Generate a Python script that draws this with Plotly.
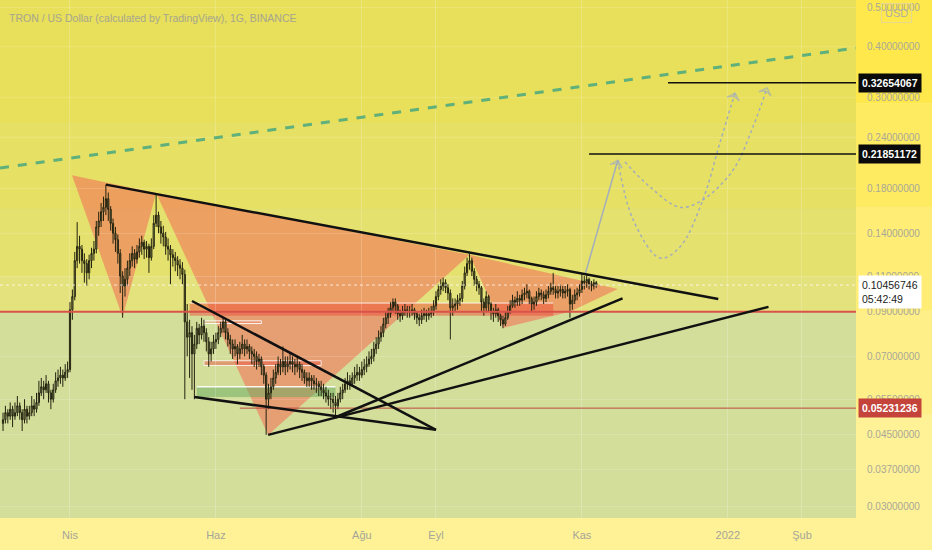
import math

import pandas as pd
import plotly.graph_objects as go

# daily candles, TRX/USD, 2021-03-04 .. 2021-11-07
start_day = "2021-03-04"
first_open = 0.048
close = [
    0.049, 0.051, 0.050, 0.052, 0.050, 0.051, 0.053, 0.051, 0.049, 0.052,
    0.050, 0.051, 0.053, 0.052, 0.054, 0.057, 0.059, 0.058, 0.060, 0.057,
    0.055, 0.058, 0.061, 0.062, 0.063, 0.062, 0.064, 0.065, 0.091, 0.098,
    0.120, 0.130, 0.128, 0.120, 0.118, 0.112, 0.120, 0.125, 0.128, 0.145,
    0.150, 0.158, 0.162, 0.170, 0.160, 0.148, 0.140, 0.135, 0.125, 0.110,
    0.104, 0.108, 0.115, 0.120, 0.125, 0.121, 0.126, 0.130, 0.133, 0.128,
    0.130, 0.122, 0.130, 0.148, 0.155, 0.145, 0.140, 0.137, 0.130, 0.128,
    0.124, 0.122, 0.120, 0.117, 0.115, 0.111, 0.085, 0.078, 0.080, 0.071,
    0.075, 0.082, 0.079, 0.083, 0.080, 0.076, 0.071, 0.073, 0.076, 0.077,
    0.080, 0.082, 0.085, 0.080, 0.077, 0.075, 0.073, 0.074, 0.071, 0.073,
    0.075, 0.073, 0.074, 0.072, 0.071, 0.070, 0.068, 0.069, 0.066, 0.063,
    0.055, 0.057, 0.059, 0.062, 0.064, 0.067, 0.066, 0.068, 0.066, 0.067,
    0.068, 0.067, 0.066, 0.067, 0.065, 0.064, 0.062, 0.061, 0.062, 0.061,
    0.060, 0.060, 0.059, 0.058, 0.057, 0.056, 0.055, 0.055, 0.054, 0.053,
    0.055, 0.057, 0.058, 0.060, 0.061, 0.060, 0.062, 0.063, 0.064, 0.063,
    0.065, 0.066, 0.067, 0.069, 0.070, 0.073, 0.075, 0.078, 0.080, 0.084,
    0.087, 0.089, 0.092, 0.095, 0.093, 0.089, 0.088, 0.090, 0.091, 0.090,
    0.090, 0.091, 0.089, 0.087, 0.086, 0.088, 0.089, 0.088, 0.089, 0.090,
    0.093, 0.098, 0.102, 0.104, 0.106, 0.103, 0.100, 0.092, 0.093, 0.094,
    0.096, 0.097, 0.104, 0.112, 0.118, 0.120, 0.113, 0.108, 0.105, 0.103,
    0.095, 0.092, 0.098, 0.094, 0.090, 0.089, 0.091, 0.088, 0.086, 0.084,
    0.087, 0.090, 0.093, 0.096, 0.095, 0.097, 0.096, 0.099, 0.100, 0.101,
    0.097, 0.094, 0.095, 0.098, 0.100, 0.099, 0.097, 0.099, 0.101, 0.103,
    0.102, 0.100, 0.101, 0.102, 0.100, 0.101, 0.102, 0.094, 0.096, 0.099,
    0.100, 0.102, 0.107, 0.106, 0.108, 0.105, 0.104, 0.106, 0.10456746,
]
high = [
    0.051, 0.053, 0.052, 0.054, 0.053, 0.054, 0.056, 0.054, 0.052, 0.055,
    0.053, 0.053, 0.056, 0.055, 0.057, 0.061, 0.062, 0.061, 0.063, 0.061,
    0.058, 0.060, 0.064, 0.065, 0.066, 0.065, 0.067, 0.068, 0.095, 0.102,
    0.126, 0.149, 0.138, 0.131, 0.125, 0.121, 0.124, 0.129, 0.134, 0.150,
    0.158, 0.166, 0.172, 0.184, 0.176, 0.163, 0.152, 0.145, 0.139, 0.128,
    0.113, 0.115, 0.120, 0.125, 0.130, 0.128, 0.131, 0.136, 0.138, 0.135,
    0.134, 0.132, 0.136, 0.155, 0.174, 0.158, 0.150, 0.146, 0.141, 0.136,
    0.131, 0.128, 0.126, 0.123, 0.121, 0.119, 0.114, 0.094, 0.086, 0.083,
    0.079, 0.085, 0.084, 0.087, 0.086, 0.082, 0.078, 0.076, 0.079, 0.080,
    0.083, 0.085, 0.087, 0.086, 0.082, 0.079, 0.077, 0.077, 0.075, 0.076,
    0.079, 0.077, 0.077, 0.075, 0.074, 0.073, 0.072, 0.071, 0.070, 0.067,
    0.064, 0.060, 0.062, 0.065, 0.067, 0.070, 0.069, 0.074, 0.070, 0.070,
    0.071, 0.070, 0.069, 0.070, 0.068, 0.067, 0.065, 0.064, 0.064, 0.063,
    0.063, 0.062, 0.061, 0.061, 0.060, 0.059, 0.058, 0.057, 0.057, 0.056,
    0.057, 0.059, 0.060, 0.062, 0.064, 0.063, 0.064, 0.066, 0.067, 0.066,
    0.068, 0.069, 0.070, 0.072, 0.073, 0.076, 0.078, 0.081, 0.083, 0.087,
    0.090, 0.092, 0.095, 0.097, 0.097, 0.094, 0.091, 0.093, 0.094, 0.093,
    0.093, 0.094, 0.092, 0.090, 0.089, 0.091, 0.092, 0.091, 0.092, 0.093,
    0.096, 0.101, 0.105, 0.108, 0.109, 0.108, 0.105, 0.102, 0.097, 0.097,
    0.099, 0.100, 0.107, 0.116, 0.122, 0.125, 0.122, 0.115, 0.110, 0.107,
    0.104, 0.097, 0.101, 0.099, 0.095, 0.092, 0.094, 0.092, 0.089, 0.088,
    0.090, 0.093, 0.096, 0.099, 0.098, 0.101, 0.099, 0.102, 0.103, 0.105,
    0.102, 0.098, 0.098, 0.101, 0.103, 0.102, 0.101, 0.102, 0.104, 0.106,
    0.112, 0.104, 0.104, 0.105, 0.104, 0.104, 0.105, 0.103, 0.099, 0.102,
    0.103, 0.105, 0.112, 0.110, 0.111, 0.109, 0.107, 0.108, 0.107,
]
low = [
    0.046, 0.048, 0.048, 0.049, 0.047, 0.049, 0.050, 0.049, 0.046, 0.048,
    0.048, 0.049, 0.050, 0.050, 0.051, 0.053, 0.056, 0.055, 0.057, 0.054,
    0.052, 0.054, 0.057, 0.059, 0.060, 0.059, 0.061, 0.062, 0.064, 0.086,
    0.096, 0.115, 0.118, 0.112, 0.106, 0.104, 0.108, 0.115, 0.120, 0.125,
    0.138, 0.145, 0.150, 0.155, 0.150, 0.142, 0.132, 0.126, 0.118, 0.100,
    0.087, 0.098, 0.104, 0.110, 0.116, 0.115, 0.118, 0.122, 0.124, 0.121,
    0.122, 0.112, 0.120, 0.128, 0.145, 0.140, 0.132, 0.130, 0.124, 0.120,
    0.105, 0.116, 0.113, 0.110, 0.108, 0.105, 0.055, 0.070, 0.062, 0.058,
    0.055, 0.073, 0.075, 0.077, 0.076, 0.072, 0.066, 0.068, 0.071, 0.073,
    0.075, 0.078, 0.080, 0.077, 0.074, 0.071, 0.069, 0.070, 0.067, 0.069,
    0.071, 0.070, 0.071, 0.069, 0.067, 0.066, 0.065, 0.066, 0.063, 0.060,
    0.045, 0.052, 0.055, 0.058, 0.060, 0.063, 0.063, 0.064, 0.063, 0.064,
    0.065, 0.064, 0.063, 0.064, 0.062, 0.061, 0.060, 0.059, 0.059, 0.058,
    0.058, 0.057, 0.056, 0.056, 0.055, 0.054, 0.053, 0.052, 0.051, 0.0495,
    0.052, 0.054, 0.055, 0.057, 0.058, 0.058, 0.059, 0.060, 0.061, 0.061,
    0.062, 0.063, 0.064, 0.066, 0.067, 0.068, 0.071, 0.073, 0.076, 0.078,
    0.082, 0.084, 0.087, 0.090, 0.089, 0.086, 0.085, 0.086, 0.088, 0.087,
    0.087, 0.088, 0.086, 0.084, 0.083, 0.084, 0.086, 0.085, 0.086, 0.087,
    0.088, 0.091, 0.096, 0.099, 0.101, 0.100, 0.096, 0.077, 0.088, 0.090,
    0.091, 0.093, 0.095, 0.102, 0.110, 0.114, 0.110, 0.104, 0.101, 0.099,
    0.090, 0.088, 0.090, 0.090, 0.086, 0.085, 0.087, 0.085, 0.083, 0.082,
    0.083, 0.086, 0.089, 0.092, 0.092, 0.093, 0.093, 0.094, 0.096, 0.097,
    0.094, 0.090, 0.091, 0.093, 0.096, 0.096, 0.094, 0.095, 0.097, 0.099,
    0.099, 0.097, 0.097, 0.098, 0.097, 0.097, 0.098, 0.087, 0.091, 0.094,
    0.096, 0.098, 0.100, 0.102, 0.103, 0.102, 0.101, 0.102, 0.103,
]

# axis ticks
x_tick_dates = ["2021-04-01", "2021-06-01", "2021-08-01", "2021-09-01",
                "2021-11-01", "2022-01-01", "2022-02-01"]
x_tick_text = ["Nis", "Haz", "Ağu", "Eyl", "Kas", "2022", "Şub"]
y_ticks = [0.5, 0.4, 0.3, 0.24, 0.18, 0.14, 0.11, 0.09, 0.07, 0.055, 0.045, 0.037, 0.03]
x_view = ["2021-03-02 17:45", "2022-02-23 14:00"]
y_view = [0.02819, 0.5201]

# drawings (date, price)
harmonic_a = [("2021-04-01 20:00", 0.194), ("2021-04-23", 0.0874), ("2021-05-07", 0.1755)]
harmonic_b = [("2021-05-07", 0.1755), ("2021-06-22 20:00", 0.045), ("2021-09-15", 0.124)]
harmonic_c = [("2021-09-15", 0.124), ("2021-09-29", 0.0821), ("2021-10-27", 0.090), ("2021-11-16", 0.1023)]
trend_lines = [
    (("2021-04-16", 0.184), ("2021-12-28", 0.0967)),
    (("2021-05-22", 0.0956), ("2021-09-01", 0.0463)),
    (("2021-05-23", 0.0557), ("2021-09-01", 0.0463)),
    (("2021-06-22 20:00", 0.045), ("2022-01-18", 0.0925)),
    (("2021-07-21", 0.0497), ("2021-11-18", 0.097)),
]
channel_line = (("2021-03-02 17:45", 0.202), ("2022-02-23 14:00", 0.397))
support_level = 0.09
low_level = 0.05231236
target_1 = 0.21851172
target_2 = 0.32654067
last_price = 0.10456746
countdown = "05:42:49"

path_up = [("2021-11-02 08:00", 0.111), ("2021-11-16", 0.211)]
path_deep = [("2021-11-16", 0.211), ("2021-11-22 10:00", 0.151), ("2021-12-03 16:00", 0.1217),
             ("2021-12-12", 0.1296), ("2021-12-21 14:00", 0.169), ("2021-12-28 16:00", 0.2326),
             ("2022-01-04", 0.308)]
path_shallow = [("2021-11-19", 0.209), ("2021-11-29 12:00", 0.1816), ("2021-12-12", 0.162),
                ("2021-12-21 14:00", 0.169), ("2022-01-03 05:00", 0.1998), ("2022-01-11 12:00", 0.2545),
                ("2022-01-17 10:00", 0.317)]

dates = pd.date_range(start_day, periods=len(close), freq="D")
opens = [first_open] + close[:-1]

fig = go.Figure()

fig.add_trace(
    go.Candlestick(
        x=dates,
        open=opens,
        high=high,
        low=low,
        close=close,
        increasing=dict(line=dict(color="#23230f", width=1), fillcolor="#a2a26c"),
        decreasing=dict(line=dict(color="#23230f", width=1), fillcolor="#77774c"),
        whiskerwidth=0,
        showlegend=False,
        hoverinfo="skip",
    )
)

arrow_color = "#a3aebb"
fig.add_trace(go.Scatter(
    x=[p[0] for p in path_up], y=[p[1] for p in path_up], mode="lines+markers",
    line=dict(color=arrow_color, width=1.5),
    marker=dict(symbol="arrow-wide-open", size=[0, 9], angleref="previous",
                color=arrow_color, line=dict(color=arrow_color, width=1.5)),
    showlegend=False, hoverinfo="skip",
))
for path in (path_deep, path_shallow):
    fig.add_trace(go.Scatter(
        x=[p[0] for p in path], y=[p[1] for p in path], mode="lines",
        line=dict(color=arrow_color, width=1.5, dash="dot", shape="spline"),
        showlegend=False, hoverinfo="skip",
    ))
    fig.add_trace(go.Scatter(
        x=[p[0] for p in path[-2:]], y=[p[1] for p in path[-2:]], mode="markers",
        marker=dict(symbol="arrow-wide-open", size=[0, 9], angleref="previous",
                    color=arrow_color, line=dict(color=arrow_color, width=1.5)),
        showlegend=False, hoverinfo="skip",
    ))


def poly_path(points):
    parts = []
    for k, (d, v) in enumerate(points):
        parts.append(("M" if k == 0 else "L") + f"{d.replace(' ', '_')},{v}")
    return " ".join(parts) + " Z"


shapes = []

# background bands: yellow above the 0.09 level, pale green below
yellow_bands = [(0.09, 0.11, "#e3e27c"), (0.11, 0.16, "#e5e16e"),
                (0.16, 0.26, "#e6e064"), (0.26, 0.6, "#e8df5a")]
for y0, y1, col in yellow_bands:
    shapes.append(dict(type="rect", xref="paper", x0=0, x1=1, yref="y", y0=y0, y1=y1,
                       fillcolor=col, line_width=0, layer="below"))
# right price scale background
scale_bands = [(0.8, 1.0, "#ffe84c"), (0.6, 0.8, "#ffeb62"), (0.4, 0.6, "#ffed76"),
               (0.2, 0.4, "#ffef88"), (0.0, 0.2, "#fff196")]
for y0, y1, col in scale_bands:
    shapes.append(dict(type="rect", xref="paper", x0=1, x1=1.1, yref="paper", y0=y0, y1=y1,
                       fillcolor=col, line_width=0, layer="below"))

orange = "rgba(240,120,90,0.62)"
for tri in (harmonic_a, harmonic_b, harmonic_c):
    shapes.append(dict(type="path", path=poly_path(tri), xref="x", yref="y",
                       fillcolor=orange, line_width=0, layer="below"))

# zones
shapes.append(dict(type="rect", x0="2021-05-21", x1="2021-10-20", y0=0.088, y1=0.0945,
                   fillcolor="rgba(236,80,60,0.5)", line_width=0, layer="below"))
shapes.append(dict(type="line", x0="2021-05-21", x1="2021-10-20", y0=0.0945, y1=0.0945,
                   line=dict(color="rgba(255,255,255,0.85)", width=1), layer="below"))
shapes.append(dict(type="rect", x0="2021-05-27", x1="2021-06-20", y0=0.0842, y1=0.0855,
                   fillcolor="rgba(236,120,90,0.3)", line=dict(color="rgba(255,255,255,0.9)", width=1),
                   layer="below"))
shapes.append(dict(type="rect", x0="2021-05-27", x1="2021-07-15", y0=0.0665, y1=0.0683,
                   fillcolor="rgba(230,90,70,0.5)", line=dict(color="rgba(255,255,255,0.8)", width=1),
                   layer="below"))
shapes.append(dict(type="rect", x0="2021-05-24", x1="2021-07-21", y0=0.0557, y1=0.059,
                   fillcolor="rgba(100,170,95,0.5)", line_width=0, layer="below"))
shapes.append(dict(type="line", x0="2021-05-24", x1="2021-07-21", y0=0.059, y1=0.059,
                   line=dict(color="rgba(255,255,255,0.9)", width=1.5), layer="below"))

# horizontal levels
shapes.append(dict(type="line", xref="paper", x0=0, x1=1, y0=support_level, y1=support_level,
                   line=dict(color="#d9534a", width=2)))
shapes.append(dict(type="line", xref="paper", x0=0, x1=1, y0=last_price, y1=last_price,
                   line=dict(color="rgba(255,255,255,0.75)", width=1, dash="dot")))
shapes.append(dict(type="line", x0="2021-06-11", x1=x_view[1], y0=low_level, y1=low_level,
                   line=dict(color="#b84a3e", width=1)))
shapes.append(dict(type="line", x0="2021-11-04", x1=x_view[1], y0=target_1, y1=target_1,
                   line=dict(color="#111111", width=1.5)))
shapes.append(dict(type="line", x0="2021-12-07", x1=x_view[1], y0=target_2, y1=target_2,
                   line=dict(color="#111111", width=1.5)))

# trend lines
for (d0, v0), (d1, v1) in trend_lines:
    shapes.append(dict(type="line", x0=d0, y0=v0, x1=d1, y1=v1,
                       line=dict(color="#111111", width=2.5)))
(d0, v0), (d1, v1) = channel_line
shapes.append(dict(type="line", x0=d0, y0=v0, x1=d1, y1=v1,
                   line=dict(color="#5fb07a", width=3, dash="dash")))

annotations = [
    dict(text="TRON / US Dollar (calculated by TradingView), 1G, BINANCE",
         xref="paper", yref="paper", x=0.0, y=1.0, xanchor="left", yanchor="top",
         xshift=7, yshift=-10, showarrow=False,
         font=dict(family="Liberation Sans", size=10.5, color="#a6a690")),
    dict(text="USD", xref="paper", yref="paper", x=1.0, y=1.0, xanchor="left", yanchor="top",
         xshift=25, yshift=-3, showarrow=False, bordercolor="#e8d890", borderwidth=1, borderpad=3,
         font=dict(family="Liberation Sans", size=11, color="#b0b0a0")),
]
price_tags = [
    (target_2, f"{target_2:.8f}", "#0a0a0a", "white"),
    (target_1, f"{target_1:.8f}", "#0a0a0a", "white"),
    (low_level, f"{low_level:.8f}", "#c4443c", "white"),
]
for value, label, bg, fg in price_tags:
    annotations.append(dict(text=f"<b>{label}</b>", xref="paper", yref="y", x=1.0,
                            y=math.log10(value), xanchor="left", yanchor="middle", xshift=2,
                            showarrow=False, bgcolor=bg, borderpad=3,
                            font=dict(family="Liberation Sans", size=10.5, color=fg)))
annotations.append(dict(text=f"{last_price:.8f}<br>{countdown}", xref="paper", yref="y", x=1.0,
                        y=math.log10(last_price), xanchor="left", yanchor="top", yshift=10, xshift=2,
                        showarrow=False, bgcolor="white", borderpad=3, align="left",
                        font=dict(family="Liberation Sans", size=10.5, color="#222222")))

fig.update_layout(
    width=932,
    height=550,
    margin=dict(l=0, r=76, t=0, b=32),
    paper_bgcolor="#fff296",
    plot_bgcolor="#d4de9b",
    shapes=shapes,
    annotations=annotations,
    xaxis=dict(
        type="date",
        range=x_view,
        rangeslider=dict(visible=False),
        tickvals=x_tick_dates,
        ticktext=x_tick_text,
        tickfont=dict(family="Liberation Sans", size=11, color="#a5a598"),
        ticklabelstandoff=9,
        showgrid=True,
        gridcolor="rgba(255,255,255,0.2)",
        zeroline=False,
        showline=False,
        fixedrange=True,
    ),
    yaxis=dict(
        type="log",
        side="right",
        range=[math.log10(y_view[0]), math.log10(y_view[1])],
        tickvals=y_ticks,
        ticktext=[f"{v:.8f}" for v in y_ticks],
        tickfont=dict(family="Liberation Sans", size=10, color="#a8a898"),
        ticklabelstandoff=10,
        showgrid=True,
        gridcolor="rgba(255,255,255,0.15)",
        zeroline=False,
        showline=False,
        fixedrange=True,
    ),
)

fig.write_html("out.html", config={"displayModeBar": False},
               post_script="document.body.style.margin = '0';")
